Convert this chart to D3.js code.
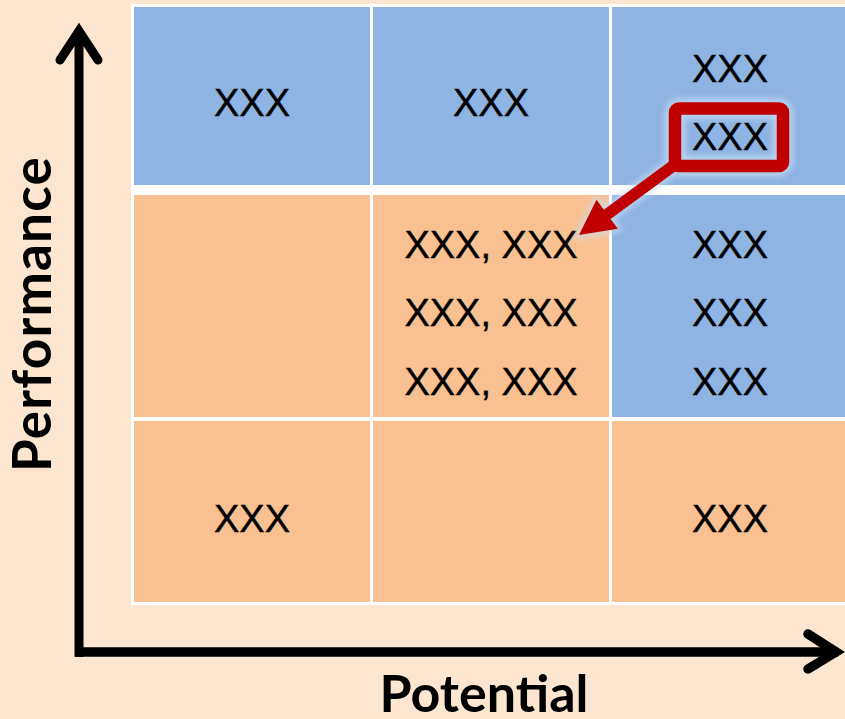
<!DOCTYPE html>
<html>
<head>
<meta charset="utf-8">
<script src="https://cdn.jsdelivr.net/npm/d3@7/dist/d3.min.js"></script>
<style>
  html, body { margin: 0; padding: 0; background: #FDE6D0; overflow: hidden; }
  svg { display: block; }
</style>
</head>
<body>
<svg id="chart" width="845" height="719"></svg>
<script>
// ---------------- data ----------------
const potentialLevels = ["Low", "Medium", "High"];        // columns (x)
const performanceLevels = ["High", "Medium", "Low"];      // rows (y), top to bottom
const xAxisTitle = "Potential";
const yAxisTitle = "Performance";
// cell tone: "blue" or "orange"
const cellTones = [
  ["blue",   "blue",   "blue"],
  ["orange", "orange", "blue"],
  ["orange", "orange", "orange"]
];
// cell text lines
const cellLabels = [
  [["XXX"], ["XXX"], ["XXX", "XXX"]],
  [[], ["XXX, XXX", "XXX, XXX", "XXX, XXX"], ["XXX", "XXX", "XXX"]],
  [["XXX"], [], ["XXX"]]
];
// highlighted entry: row, col, line index; arrow points to the entry below
const highlight = { row: 0, col: 2, line: 1 };
const arrowTarget = { row: 1, col: 1, line: 0 };

// ---------------- layout ----------------
const colors = { blue: "#8EB4E3", orange: "#F9C191", bg: "#FDE6D0", red: "#C00000" };
const svg = d3.select("#chart");
svg.append("rect").attr("width", 845).attr("height", 719).attr("fill", colors.bg);

const x = d3.scaleBand().domain(potentialLevels).range([134, 848]).paddingInner(3 / 239).paddingOuter(0);
// rows have unequal heights (edges in px)
const rowEdges = [[7, 185], [195, 417], [421, 602]];
const y = d3.scaleOrdinal().domain(performanceLevels).range(rowEdges);

const defs = svg.append("defs");
const glow = defs.append("filter").attr("id", "glow").attr("x", "-30%").attr("y", "-30%").attr("width", "160%").attr("height", "160%");
glow.append("feGaussianBlur").attr("stdDeviation", 3);

// white grid backing
svg.append("rect")
  .attr("x", 131).attr("y", 4)
  .attr("width", 860 - 131).attr("height", 605 - 4)
  .attr("fill", "#FFFFFF");

const cells = [];
performanceLevels.forEach((pr, r) => {
  potentialLevels.forEach((po, c) => {
    const [y0, y1] = y(pr);
    cells.push({ r, c, x0: x(po), x1: x(po) + x.bandwidth(), y0, y1,
                 tone: cellTones[r][c], lines: cellLabels[r][c] });
  });
});

svg.append("g").selectAll("rect").data(cells).join("rect")
  .attr("x", d => d.x0).attr("y", d => d.y0)
  .attr("width", d => d.x1 - d.x0).attr("height", d => d.y1 - d.y0)
  .attr("fill", d => colors[d.tone]);

const lineGap = 68.5, capH = 27, textFont = "'Liberation Sans', Arial, sans-serif", textSize = 38;
function linePos(cell, i) {
  const cx = (cell.x0 + cell.x1) / 2;
  const cy = (cell.y0 + cell.y1) / 2 + 6.5;
  const n = cell.lines.length;
  const mid = cy + (i - (n - 1) / 2) * lineGap;
  return { cx, mid, base: mid + capH / 2 };
}

const tg = svg.append("g");
cells.forEach(cell => {
  cell.lines.forEach((t, i) => {
    const p = linePos(cell, i);
    tg.append("text")
      .attr("x", p.cx).attr("y", p.base)
      .attr("text-anchor", "middle")
      .attr("font-family", textFont).attr("font-size", textSize)
      .attr("stroke", "#000").attr("stroke-width", 0.4)
      .attr("fill", "#000").text(t);
  });
});

// ---------------- highlight box + arrow ----------------
const hCell = cells.find(d => d.r === highlight.row && d.c === highlight.col);
const hp = linePos(hCell, highlight.line);
const boxW = 108, boxH = 57.5;
const bx = hp.cx - 1 - boxW / 2, by = hp.mid - boxH / 2 + 0.5;

const tCell = cells.find(d => d.r === arrowTarget.row && d.c === arrowTarget.col);
const tp = linePos(tCell, arrowTarget.line);
const tip = [tp.cx + 88, tp.mid - 9];
const start = [bx + 2, by + boxH - 3];
const dx = tip[0] - start[0], dy = tip[1] - start[1];
const len = Math.hypot(dx, dy);
const ux = dx / len, uy = dy / len, nx = -uy, ny = ux;
const headL = 35, headW = 18, shaftW = 11.5;
const base = [tip[0] - ux * headL, tip[1] - uy * headL];
const arrowPath = [
  [start[0] + nx * shaftW / 2, start[1] + ny * shaftW / 2],
  [base[0] + nx * shaftW / 2, base[1] + ny * shaftW / 2],
  [base[0] + nx * headW, base[1] + ny * headW],
  tip,
  [base[0] - nx * headW, base[1] - ny * headW],
  [base[0] - nx * shaftW / 2, base[1] - ny * shaftW / 2],
  [start[0] - nx * shaftW / 2, start[1] - ny * shaftW / 2]
];
const lineGen = d3.line().curve(d3.curveLinearClosed);

// glow
const gg = svg.append("g").attr("filter", "url(#glow)").attr("opacity", 0.75);
gg.append("rect").attr("x", bx).attr("y", by).attr("width", boxW).attr("height", boxH)
  .attr("rx", 5).attr("fill", "none").attr("stroke", "#C9DDF2").attr("stroke-width", 20);
gg.append("path").attr("d", lineGen(arrowPath)).attr("fill", "#C9DDF2").attr("stroke", "#C9DDF2").attr("stroke-width", 6);

svg.append("path").attr("d", lineGen(arrowPath)).attr("fill", colors.red);
svg.append("rect").attr("x", bx).attr("y", by).attr("width", boxW).attr("height", boxH)
  .attr("rx", 4).attr("fill", "none").attr("stroke", colors.red).attr("stroke-width", 12.5);

// ---------------- axes ----------------
const ax = svg.append("g").attr("stroke", "#000").attr("fill", "none");
ax.append("line").attr("x1", 79).attr("y1", 30).attr("x2", 79).attr("y2", 657).attr("stroke-width", 9);
ax.append("line").attr("x1", 79).attr("y1", 652).attr("x2", 838).attr("y2", 652).attr("stroke-width", 9.5);
ax.append("path").attr("d", "M60,60 L79,31 L98,60").attr("stroke-width", 9)
  .attr("stroke-linecap", "round").attr("stroke-linejoin", "miter");
ax.append("path").attr("d", "M808,634 L836,652 L808,669").attr("stroke-width", 9.5)
  .attr("stroke-linecap", "round").attr("stroke-linejoin", "miter");

const titleFont = "Lato, 'Open Sans', sans-serif";
svg.append("text").attr("x", 484).attr("y", 712).attr("text-anchor", "middle")
  .attr("font-family", titleFont).attr("font-weight", "bold").attr("font-size", 52)
  .attr("fill", "#000").text(xAxisTitle);
svg.append("text").attr("transform", "translate(51,314) rotate(-90)").attr("text-anchor", "middle")
  .attr("font-family", titleFont).attr("font-weight", "bold").attr("font-size", 53)
  .attr("letter-spacing", 1.2)
  .attr("fill", "#000").text(yAxisTitle);
</script>
</body>
</html>
